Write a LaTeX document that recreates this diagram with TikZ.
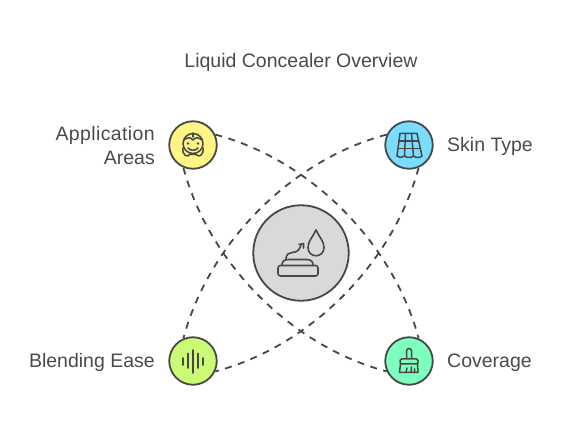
\documentclass[tikz,border=0pt]{standalone}
\usepackage{fontspec}
\setmainfont{Liberation Sans}
\definecolor{ink}{HTML}{474747}
\definecolor{txt}{HTML}{4A4A4A}
\definecolor{fy}{HTML}{FFF484}
\definecolor{fc}{HTML}{7ADDFF}
\definecolor{fl}{HTML}{CBFB74}
\definecolor{fm}{HTML}{7DFFBE}
\tikzset{
 x=1pt,y=-1pt,
 hub/.style={circle,draw=ink,line width=1.8pt,minimum size=47.5pt,inner sep=0pt},
 core/.style={circle,draw=ink,line width=1.8pt,fill=black!15,minimum size=95.5pt,inner sep=0pt},
 lbl/.style={text=txt,font=\fontsize{19.5}{24}\selectfont,inner sep=0pt},
 link/.style={draw=ink,line width=1.8pt,dash pattern=on 7pt off 6.5pt},
 icon/.style={draw=ink,line width=1.6pt,line cap=round,line join=round},
 thin icon/.style={icon,line width=1.5pt},
}
\begin{document}
\begin{tikzpicture}
\useasboundingbox (0,0) rectangle (566,438);
\fill[white] (0,0) rectangle (566,438);
\node[core] (c) at (301,253) {};
\node[hub,fill=fy] (tl) at (193,145) {};
\node[hub,fill=fc] (tr) at (409,145) {};
\node[hub,fill=fl] (bl) at (193,361) {};
\node[hub,fill=fm] (br) at (409,361) {};
\draw[link] (tl.25) .. controls (311,160) and (393,243) .. (br.67);
\draw[link] (tl.247) .. controls (209,263) and (291,346) .. (br.205);
\draw[link] (tr.155) .. controls (291,160) and (209,243) .. (bl.113);
\draw[link] (tr.293) .. controls (393,263) and (311,346) .. (bl.335);
\node[lbl] (title) at (301,62.6) {Liquid Concealer Overview};
\node[lbl,align=right,anchor=east] (t1) at (155,146) {\addfontfeature{LetterSpace=2}Application\\Areas};
\node[lbl,anchor=west] (t2) at (447,146.6) {Skin Type};
\node[lbl,anchor=east] (t3) at (155,362.6) {Blending Ease};
\node[lbl,anchor=west] (t4) at (447,362.6) {Coverage};
% centre icon
\draw[icon,rounded corners=2.5pt] (278,265.5) rectangle (318,276);
\draw[icon] (282,265.5) .. controls (282,261) and (284,260) .. (288,259.5) -- (307,259.5) .. controls (312,260) and (313,262) .. (313,265.5);
\draw[icon] (286,259) .. controls (286,254) and (289,253) .. (292,252.5) .. controls (297,252) and (299,251) .. (301,245);
\draw[icon] (299,244.5) -- (303.5,243.5) -- (303.5,248) ;
\draw[icon] (316,230) .. controls (313,237) and (308,241) .. (308,247.5) .. controls (308,258.5) and (324,258.5) .. (324,247.5) .. controls (324,241) and (319,237) .. (316,230) -- cycle;
% face icon
\draw[thin icon] (193,143.5) circle[x radius=10,y radius=10];
\draw[thin icon] (184,140) .. controls (188,137) and (190,137) .. (193,140) .. controls (196,137) and (198,137) .. (202,140);
\draw[thin icon] (193,133) -- (193,137);
\fill[ink] (188,143.5) circle[radius=1.3] (198,143.5) circle[radius=1.3];
\draw[thin icon] (188,148) .. controls (190,151) and (196,151) .. (198,148);
\draw[thin icon] (183,148) .. controls (182,155) and (187,158) .. (190,154.5) -- (196,154.5) .. controls (199,158) and (204,155) .. (203,148);
% roof icon
\draw[thin icon] (400,133.5) -- (417,133.5) -- (422,156) (400,133.5) -- (397,156);
\draw[thin icon] (398.8,141) -- (418.8,141) (397.9,148.5) -- (420.4,148.5);
\draw[thin icon] (405.5,133.5) -- (404.5,156) (411.5,133.5) -- (413.5,156);
\draw[thin icon] (397,156) .. controls (399,158) and (402,158) .. (404.5,156) .. controls (407,158) and (411,158) .. (413.5,156) .. controls (416,158) and (420,158) .. (422,156);
% bars icon
\draw[icon] (182.7,358) -- (182.7,365) (187.8,353.5) -- (187.8,368) (192.8,350) -- (192.8,373) (198,353.5) -- (198,368) (203.2,358) -- (203.2,365);
% brush icon
\draw[thin icon] (406.5,358) -- (406.5,351) arc[start angle=180,end angle=360,radius=2.5] -- (411.5,358);
\draw[thin icon,rounded corners=1.5pt] (400,364) -- (400,359) -- (418,359) -- (418,364) -- cycle;
\draw[thin icon] (400.5,364) -- (399.5,372.5) -- (418,372.5) -- (417.5,364);
\draw[thin icon] (406,372.5) -- (407,368) (411,372.5) -- (411.5,367) (414.5,372.5) -- (414.5,369);
\end{tikzpicture}
\end{document}
